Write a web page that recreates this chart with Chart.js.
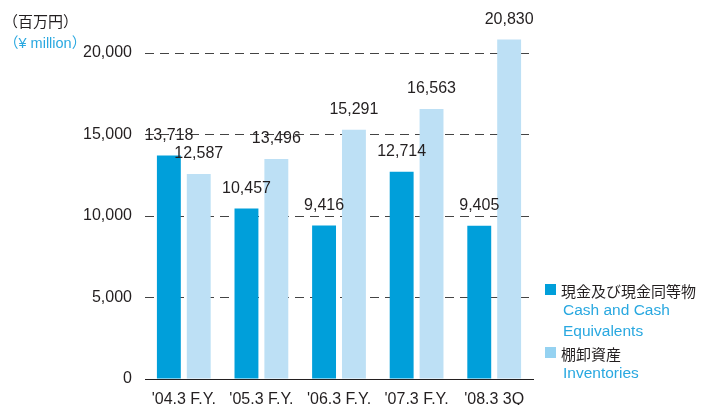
<!DOCTYPE html>
<html>
<head>
<meta charset="utf-8">
<script src="https://cdn.jsdelivr.net/npm/chart.js@4"></script>
<style>
  body { margin: 0; background: #fff; }
  #wrap { position: relative; width: 702px; height: 405px; }
  .t { position: absolute; white-space: nowrap; font-family: "Liberation Sans", "Noto Sans CJK JP", sans-serif; }
  .jp { color: #231f20; font-size: 15px; }
  .en { color: #29a8e0; font-size: 15.5px; }
  .sq { position: absolute; width: 11px; height: 11px; }
</style>
</head>
<body>
<div id="wrap">
  <canvas id="grafico" width="702" height="405"></canvas>
  <div class="t jp" style="left:3px; top:10px; font-size:15px;">（百万円）</div>
  <div class="t en" style="left:4px; top:31px; font-size:14.5px;">（¥ million）</div>

  <div class="sq" style="left:545px; top:284px; background:#009fda;"></div>
  <div class="t jp" style="left:561px; top:280px;">現金及び現金同等物</div>
  <div class="t en" style="left:563px; top:301px;">Cash and Cash</div>
  <div class="t en" style="left:563px; top:322px;">Equivalents</div>
  <div class="sq" style="left:545px; top:347px; background:#95d2f1;"></div>
  <div class="t jp" style="left:561px; top:343px;">棚卸資産</div>
  <div class="t en" style="left:563px; top:364px;">Inventories</div>
</div>
<script>
let ctx = document.getElementById('grafico')

// dados (百万円)
const labels = ["'04.3 F.Y.", "'05.3 F.Y.", "'06.3 F.Y.", "'07.3 F.Y.", "'08.3 3Q"]
const caixa = [13718, 10457, 9416, 12714, 9405]
const estoques = [12587, 13496, 15291, 16563, 20830]
const ticksY = [0, 5000, 10000, 15000, 20000]

Chart.defaults.font.family = '"Liberation Sans", sans-serif'
Chart.defaults.color = '#231f20'

// valores em cima das barras
const rotulos = {
  id: 'rotulos',
  afterDatasetsDraw(chart) {
    const c = chart.ctx
    c.save()
    c.font = '16px "Liberation Sans", sans-serif'
    c.fillStyle = '#231f20'
    c.textAlign = 'center'
    c.textBaseline = 'middle'
    chart.data.datasets.forEach((ds, i) => {
      chart.getDatasetMeta(i).data.forEach((bar, j) => {
        c.fillText(ds.data[j].toLocaleString('en-US'), bar.x, bar.y - 20)
      })
    })
    c.restore()
  }
}

const data = {
  labels,
  datasets: [{
    label: '現金及び現金同等物',
    data: caixa,
    backgroundColor: '#009fda',
    categoryPercentage: 0.77,
    barPercentage: 0.8
  }, {
    label: '棚卸資産',
    data: estoques,
    backgroundColor: '#bde0f5',
    categoryPercentage: 0.77,
    barPercentage: 0.8
  }]
}

const config = {
  type: 'bar',
  data,
  plugins: [rotulos],
  options: {
    responsive: false,
    animation: false,
    layout: { padding: { top: 4, right: 169, left: 0, bottom: 0 } },
    plugins: { legend: { display: false }, tooltip: { enabled: false } },
    scales: {
      x: {
        grid: { display: false },
        border: { display: true, color: '#231f20', width: 1 },
        ticks: { font: { size: 16 }, padding: 3 },
        afterFit(s) { s.height = 26 }
      },
      y: {
        min: 0,
        max: 21870,
        afterBuildTicks(s) { s.ticks = ticksY.map(v => ({ value: v })) },
        ticks: {
          font: { size: 16 },
          padding: 13,
          callback: v => v.toLocaleString('en-US')
        },
        grid: {
          color: c => c.tick && c.tick.value === 0 ? 'rgba(0,0,0,0)' : '#444',
          lineWidth: 1,
          drawTicks: false
        },
        border: { display: false, dash: [9, 6] },
        afterFit(s) { s.width = 145 }
      }
    }
  }
}

const graph = new Chart(ctx, config)
</script>
</body>
</html>
